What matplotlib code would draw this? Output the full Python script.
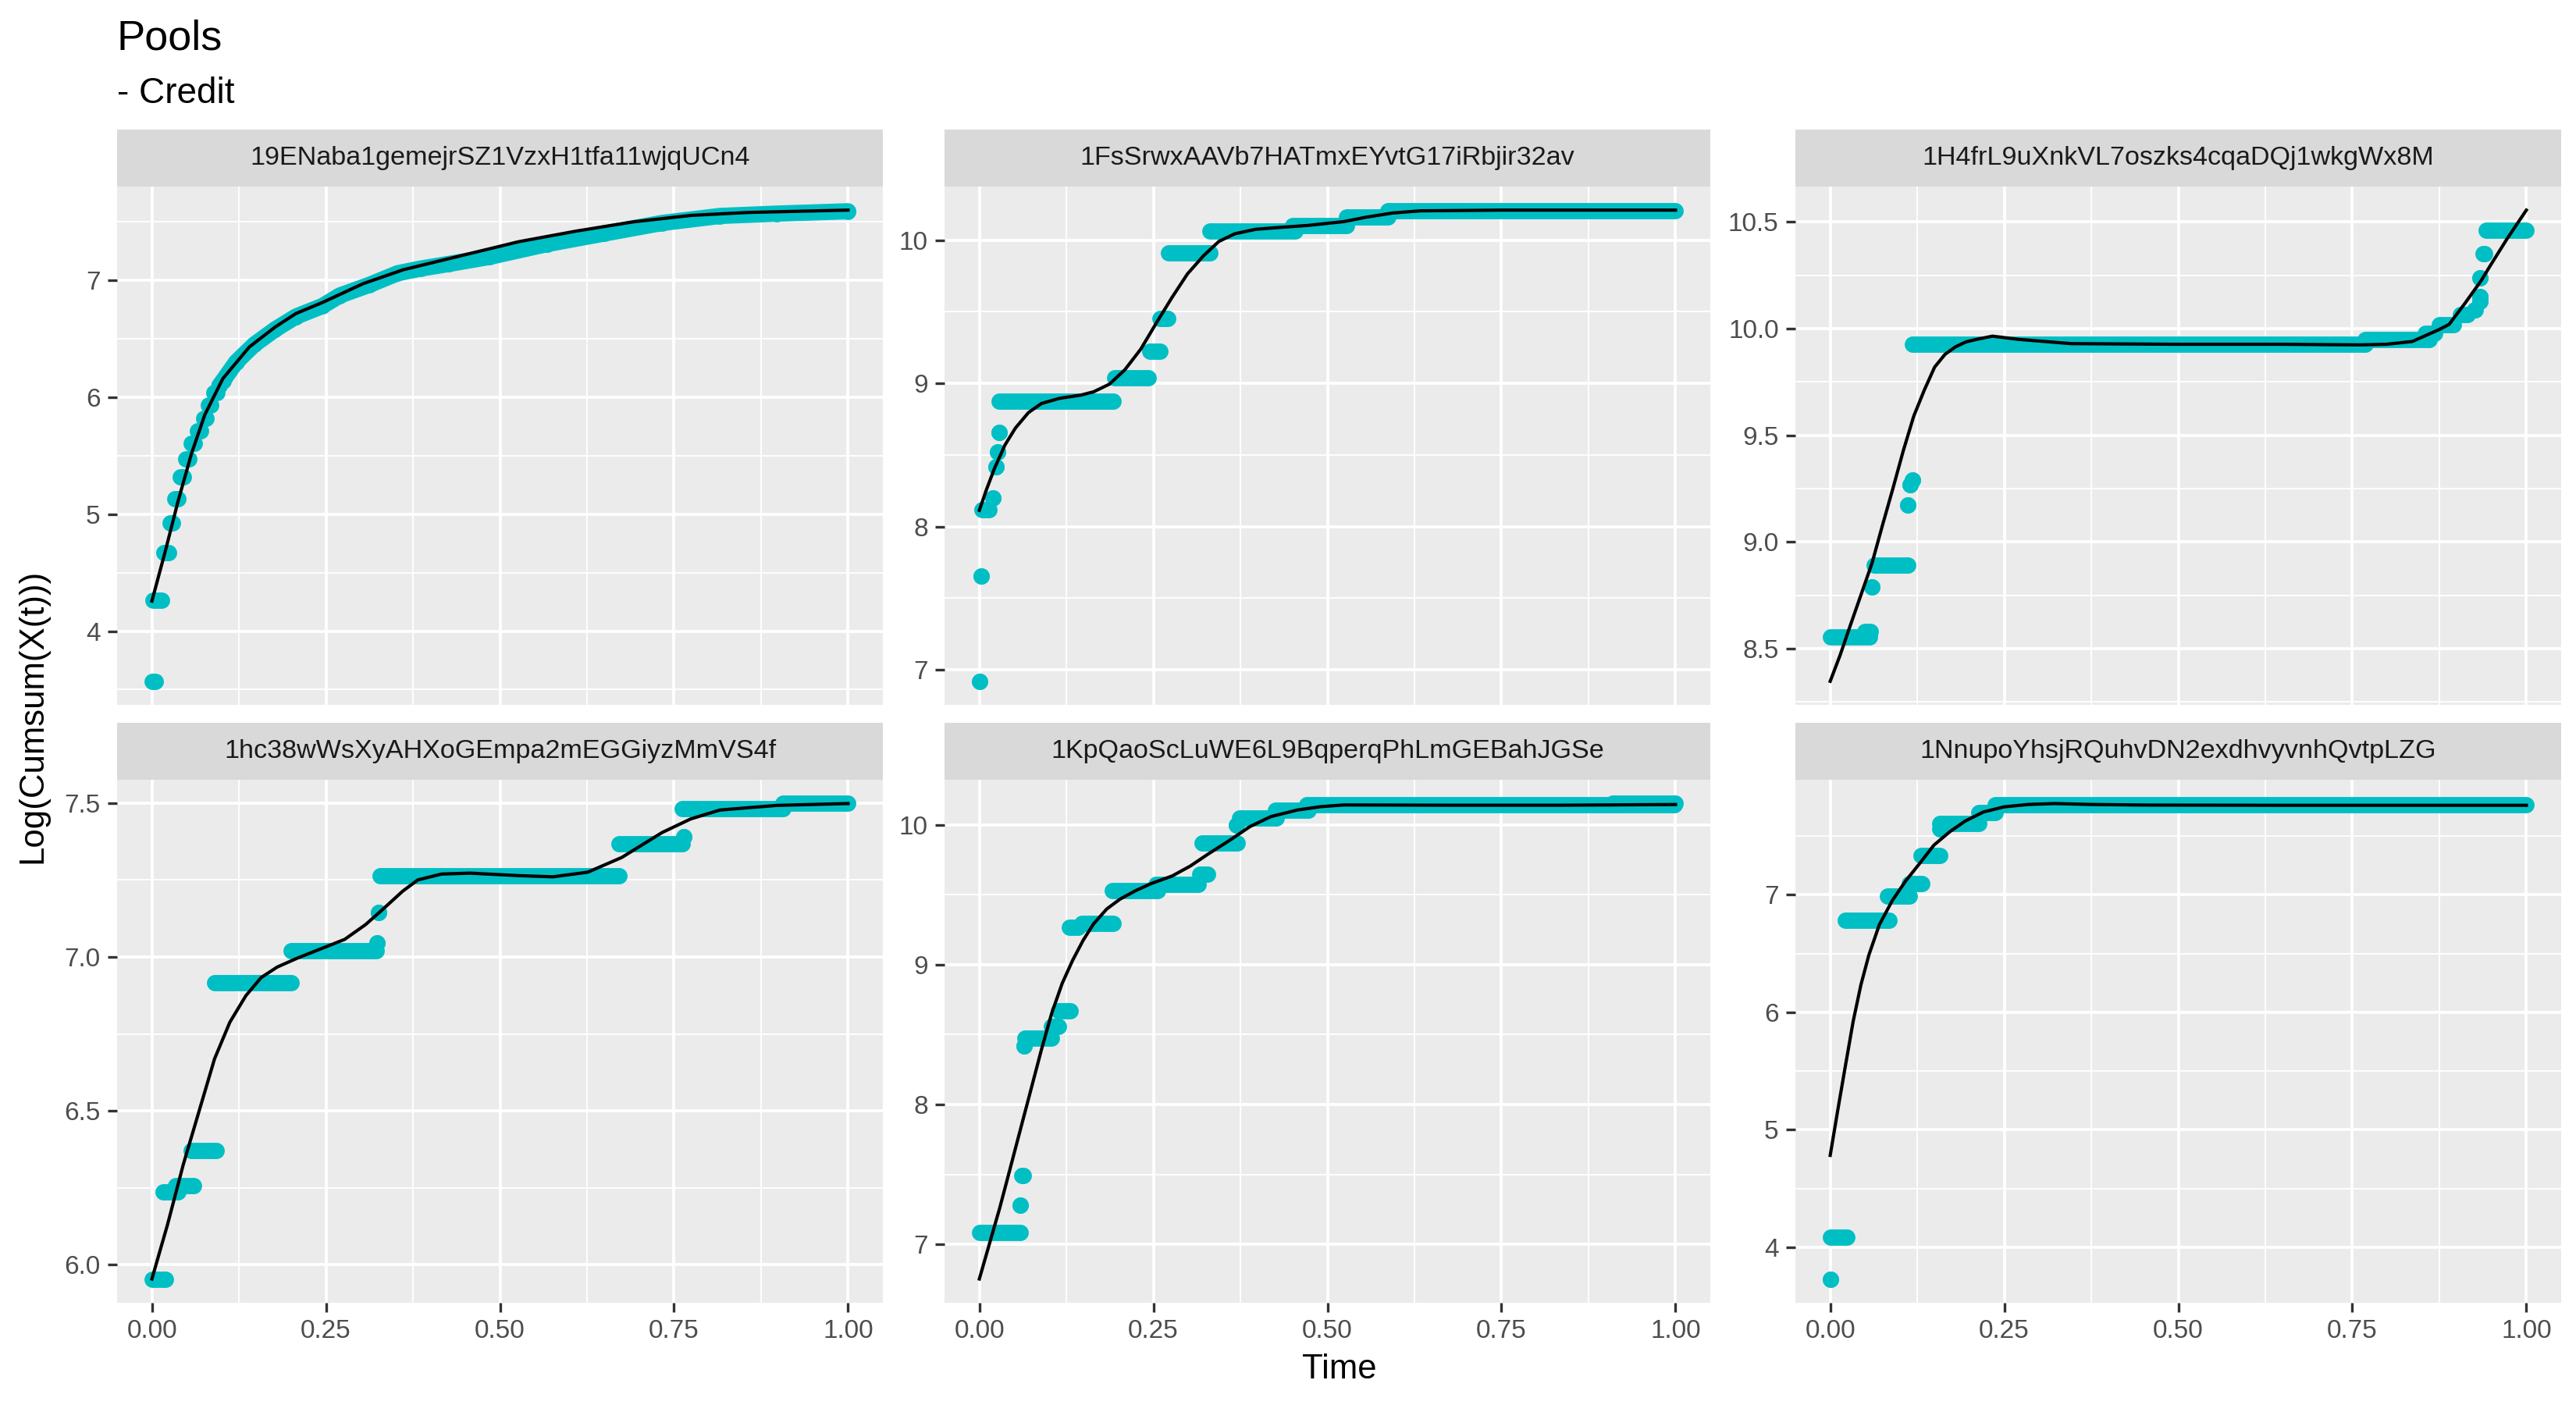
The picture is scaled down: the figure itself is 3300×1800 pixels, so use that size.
import numpy as np
import matplotlib
matplotlib.use("Agg")
import matplotlib.pyplot as plt
from matplotlib.ticker import AutoMinorLocator, FormatStrFormatter

plt.rcParams['font.family'] = ['Liberation Sans', 'DejaVu Sans']

# ---- data ----
pools = ["19ENaba1gemejrSZ1VzxH1tfa11wjqUCn4",
         "1FsSrwxAAVb7HATmxEYvtG17iRbjir32av",
         "1H4frL9uXnkVL7oszks4cqaDQj1wkgWx8M",
         "1hc38wWsXyAHXoGEmpa2mEGGiyzMmVS4f",
         "1KpQaoScLuWE6L9BqperqPhLmGEBahJGSe",
         "1NnupoYhsjRQuhvDN2exdhvyvnhQvtpLZG"]

x_ticks = [0.0, 0.25, 0.5, 0.75, 1.0]
y_ticks = [[4, 5, 6, 7],
           [7, 8, 9, 10],
           [8.5, 9.0, 9.5, 10.0, 10.5],
           [6.0, 6.5, 7.0, 7.5],
           [7, 8, 9, 10],
           [4, 5, 6, 7]]
y_fmt = ["%d", "%d", "%.1f", "%.1f", "%d", "%d"]

# runs of points at a constant level: [t_start, t_end, value]
runs_p1 = [[0.001, 0.005, 3.571], [0.002, 0.014, 4.266], [0.017, 0.024, 4.671],
           [0.026, 0.030, 4.922], [0.033, 0.037, 5.134], [0.041, 0.045, 5.316],
           [0.049, 0.053, 5.471], [0.057, 0.061, 5.604], [0.066, 0.070, 5.714],
           [0.074, 0.078, 5.819], [0.081, 0.085, 5.93], [0.089, 0.093, 6.04]]
runs_p2 = [[0.0, 0.0, 6.92], [0.003, 0.003, 7.656], [0.004, 0.014, 8.118],
           [0.02, 0.02, 8.20], [0.024, 0.024, 8.42], [0.026, 0.026, 8.52],
           [0.028, 0.028, 8.655], [0.029, 0.192, 8.878], [0.195, 0.243, 9.041],
           [0.245, 0.26, 9.222], [0.26, 0.271, 9.452], [0.272, 0.331, 9.91],
           [0.331, 0.453, 10.063], [0.45, 0.527, 10.10], [0.527, 0.587, 10.16],
           [0.587, 1.0, 10.205]]
runs_p3 = [[0.0, 0.056, 8.554], [0.05, 0.058, 8.58], [0.06, 0.06, 8.79],
           [0.063, 0.112, 8.893], [0.111, 0.111, 9.175], [0.115, 0.115, 9.27],
           [0.118, 0.118, 9.29], [0.118, 0.768, 9.927], [0.768, 0.86, 9.95],
           [0.855, 0.868, 9.977], [0.875, 0.895, 10.02], [0.905, 0.915, 10.065],
           [0.925, 0.927, 10.09], [0.933, 0.933, 10.127], [0.933, 0.933, 10.15],
           [0.933, 0.933, 10.24], [0.938, 0.94, 10.35], [0.942, 1.0, 10.46]]
runs_p4 = [[0.0, 0.019, 5.954], [0.016, 0.037, 6.236], [0.034, 0.06, 6.258],
           [0.056, 0.092, 6.372], [0.09, 0.2, 6.917], [0.2, 0.322, 7.021],
           [0.323, 0.323, 7.046], [0.326, 0.326, 7.145], [0.328, 0.671, 7.263],
           [0.671, 0.762, 7.367], [0.764, 0.764, 7.389], [0.762, 0.907, 7.482],
           [0.907, 1.0, 7.498]]
runs_p5 = [[0.0, 0.059, 7.082], [0.0585, 0.0585, 7.279], [0.061, 0.063, 7.49],
           [0.064, 0.064, 8.417], [0.065, 0.104, 8.476], [0.104, 0.114, 8.559],
           [0.114, 0.131, 8.672], [0.129, 0.142, 9.268], [0.147, 0.192, 9.296],
           [0.191, 0.256, 9.532], [0.254, 0.314, 9.575], [0.317, 0.328, 9.646],
           [0.32, 0.37, 9.87], [0.369, 0.369, 10.0], [0.374, 0.427, 10.047],
           [0.425, 0.472, 10.106], [0.47, 0.998, 10.142], [0.91, 1.0, 10.152]]
runs_p6 = [[0.0, 0.0, 3.73], [0.0, 0.024, 4.085], [0.022, 0.085, 6.782],
           [0.082, 0.114, 6.987], [0.114, 0.132, 7.097], [0.131, 0.157, 7.338],
           [0.157, 0.213, 7.608], [0.157, 0.16, 7.56], [0.213, 0.237, 7.697],
           [0.237, 1.0, 7.768]]
runs = [runs_p1, runs_p2, runs_p3, runs_p4, runs_p5, runs_p6]

# panel 1 points form a continuous band after t ~ 0.1
trace_t_p1 = [0.097, 0.102, 0.121, 0.147, 0.177, 0.207, 0.245, 0.27, 0.312,
              0.353, 0.386, 0.427, 0.485, 0.568, 0.65, 0.733, 0.816, 0.898, 1.0]
trace_y_p1 = [6.10, 6.14, 6.30, 6.45, 6.58, 6.69, 6.78, 6.87, 6.96, 7.06,
              7.10, 7.14, 7.20, 7.31, 7.40, 7.49, 7.55, 7.57, 7.59]

# smoothed curves
smooth_t_p1 = [0.0, 0.019, 0.038, 0.057, 0.076, 0.102, 0.14, 0.177, 0.207,
               0.245, 0.303, 0.361, 0.444, 0.527, 0.609, 0.692, 0.775, 0.857, 1.0]
smooth_y_p1 = [4.257, 4.678, 5.12, 5.52, 5.85, 6.16, 6.43, 6.60, 6.716, 6.81,
               6.97, 7.09, 7.21, 7.33, 7.42, 7.50, 7.555, 7.58, 7.60]
smooth_t_p2 = [0.0, 0.0105, 0.0218, 0.0368, 0.0518, 0.0705, 0.0893, 0.1155,
               0.1455, 0.164, 0.187, 0.209, 0.232, 0.254, 0.277, 0.299, 0.322,
               0.344, 0.367, 0.397, 0.434, 0.472, 0.524, 0.555, 0.594, 0.634,
               0.753, 1.0]
smooth_y_p2 = [8.114, 8.262, 8.407, 8.57, 8.688, 8.796, 8.86, 8.896, 8.918,
               8.941, 8.995, 9.095, 9.24, 9.42, 9.602, 9.765, 9.891, 9.991,
               10.045, 10.076, 10.09, 10.103, 10.13, 10.16, 10.19, 10.205,
               10.21, 10.21]
smooth_t_p3 = [0.0, 0.0143, 0.029, 0.0445, 0.06, 0.0747, 0.09, 0.105, 0.12,
               0.135, 0.15, 0.165, 0.18, 0.195, 0.21, 0.233, 0.271, 0.346,
               0.497, 0.648, 0.761, 0.799, 0.836, 0.874, 0.889, 0.912, 0.935,
               0.949, 0.972, 1.0]
smooth_y_p3 = [8.347, 8.47, 8.61, 8.755, 8.90, 9.074, 9.25, 9.428, 9.59,
               9.711, 9.82, 9.88, 9.915, 9.938, 9.95, 9.965, 9.95, 9.93,
               9.927, 9.927, 9.924, 9.927, 9.94, 9.995, 10.02, 10.12, 10.225,
               10.30, 10.42, 10.556]
smooth_t_p4 = [0.0, 0.0225, 0.045, 0.0675, 0.09, 0.112, 0.135, 0.157, 0.18,
               0.21, 0.247, 0.277, 0.307, 0.33, 0.36, 0.382, 0.416, 0.457,
               0.526, 0.576, 0.626, 0.675, 0.733, 0.774, 0.816, 0.898, 1.0]
smooth_y_p4 = [5.954, 6.131, 6.325, 6.497, 6.669, 6.788, 6.874, 6.933, 6.967,
               6.997, 7.030, 7.057, 7.105, 7.151, 7.213, 7.25, 7.269, 7.272,
               7.264, 7.26, 7.275, 7.323, 7.404, 7.448, 7.477, 7.492, 7.498]
smooth_t_p5 = [0.0, 0.0143, 0.0293, 0.0443, 0.0593, 0.0743, 0.0893, 0.104,
               0.119, 0.134, 0.149, 0.164, 0.183, 0.202, 0.224, 0.247, 0.277,
               0.303, 0.329, 0.359, 0.389, 0.419, 0.457, 0.491, 0.524, 0.674,
               0.832, 1.0]
smooth_y_p5 = [6.752, 7.0, 7.26, 7.543, 7.827, 8.11, 8.394, 8.653, 8.866,
               9.031, 9.173, 9.291, 9.398, 9.468, 9.528, 9.58, 9.634, 9.705,
               9.792, 9.887, 9.988, 10.059, 10.106, 10.13, 10.142, 10.14,
               10.14, 10.145]
smooth_t_p6 = [0.0, 0.0105, 0.0217, 0.033, 0.044, 0.0555, 0.0705, 0.089,
               0.108, 0.127, 0.149, 0.172, 0.194, 0.22, 0.25, 0.284, 0.322,
               0.375, 0.457, 0.648, 1.0]
smooth_y_p6 = [4.782, 5.154, 5.54, 5.923, 6.231, 6.487, 6.744, 6.949, 7.115,
               7.256, 7.423, 7.538, 7.628, 7.705, 7.749, 7.769, 7.777, 7.769,
               7.764, 7.762, 7.762]
smooth_t = [smooth_t_p1, smooth_t_p2, smooth_t_p3, smooth_t_p4, smooth_t_p5, smooth_t_p6]
smooth_y = [smooth_y_p1, smooth_y_p2, smooth_y_p3, smooth_y_p4, smooth_y_p5, smooth_y_p6]

# ---- style ----
W, H = 3300, 1800
point_col = "#00BFC4"
dot = 5.0      # point diameter (pt)
panel_bg = "#EBEBEB"
strip_bg = "#D9D9D9"

fig = plt.figure(figsize=(11, 6), dpi=300)

lefts = [150, 1210, 2300]
pw = 981
rows = [(239, 903), (999, 1669)]
strip_h = 73

for i in range(6):
    r, c = divmod(i, 3)
    top, bot = rows[r]
    ax = fig.add_axes([lefts[c] / W, 1 - bot / H, pw / W, (bot - top) / H])
    ax.set_facecolor(panel_bg)
    for s in ax.spines.values():
        s.set_visible(False)

    for t0, t1, v in runs[i]:
        ax.plot([t0, t1], [v, v], color=point_col, lw=dot, marker='o', ms=dot,
                mew=0, solid_capstyle='butt', zorder=3)
    if i == 0:
        ax.plot(trace_t_p1, trace_y_p1, color=point_col, lw=dot, marker='o',
                ms=dot, mew=0, solid_capstyle='round', solid_joinstyle='round',
                zorder=3)
    ax.plot(smooth_t[i], smooth_y[i], color='black', lw=1.0, zorder=4,
            solid_joinstyle='round')

    ax.margins(x=0.05, y=0.05)
    ax.set_xticks(x_ticks)
    ax.set_yticks(y_ticks[i])
    ax.xaxis.set_minor_locator(AutoMinorLocator(2))
    ax.yaxis.set_minor_locator(AutoMinorLocator(2))
    ax.yaxis.set_major_formatter(FormatStrFormatter(y_fmt[i]))
    ax.grid(which='major', color='white', lw=0.9)
    ax.grid(which='minor', color='white', lw=0.45)
    ax.set_axisbelow(True)
    ax.tick_params(which='major', length=2.9, width=0.8, color='#333333',
                   labelsize=8, labelcolor='#4D4D4D', pad=2.2)
    ax.tick_params(which='minor', length=0)
    if r == 0:
        ax.tick_params(axis='x', which='major', length=0, labelbottom=False)

    # facet strip
    sax = fig.add_axes([lefts[c] / W, 1 - top / H, pw / W, strip_h / H])
    sax.set_facecolor(strip_bg)
    sax.set_xticks([])
    sax.set_yticks([])
    for s in sax.spines.values():
        s.set_visible(False)
    sax.text(0.5, 0.5, pools[i], ha='center', va='center', fontsize=8.2,
             color='#1A1A1A', transform=sax.transAxes)

fig.text(150 / W, 1 - 63 / H, "Pools", fontsize=13, ha='left', va='baseline')
fig.text(150 / W, 1 - 132 / H, "- Credit", fontsize=11, ha='left', va='baseline')
fig.text(42 / W, 1 - 917 / H, "Log(Cumsum(X(t)))", rotation=90, fontsize=10.5,
         ha='center', va='center')
fig.text(1716 / W, 1 - 1754 / H, "Time", fontsize=10.5, ha='center', va='center')

fig.savefig("out.png", dpi=300, facecolor='white')
